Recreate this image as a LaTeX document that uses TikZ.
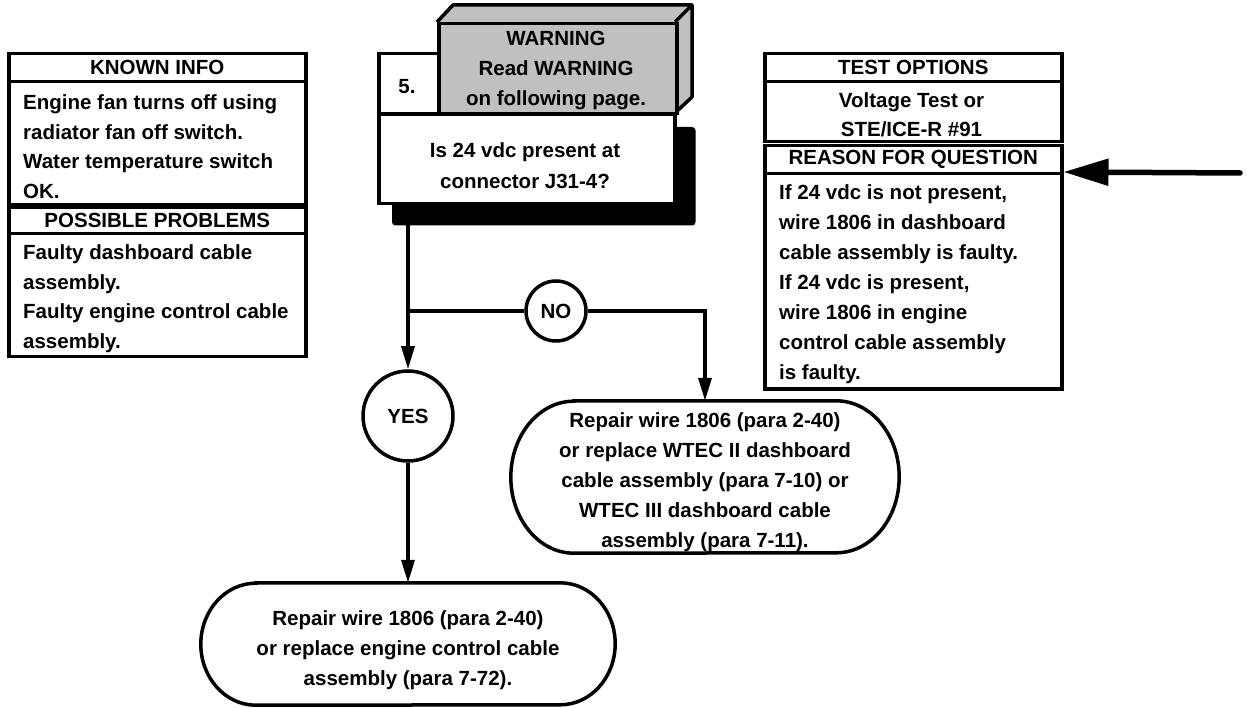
\documentclass[tikz,border=0pt]{standalone}
\usepackage{fontspec}
\setmainfont{Liberation Sans}
\usetikzlibrary{arrows.meta}
\definecolor{warngray}{RGB}{192,192,192}
\begin{document}
\begin{tikzpicture}[x=1pt,y=-1pt,
  every node/.style={font=\fontsize{20.5}{29.5}\selectfont\bfseries},
  box/.style={draw, line width=3.5pt, inner sep=0pt, anchor=north west},
  txt/.style={inner sep=0pt},
  txtw/.style={inner sep=0pt, anchor=north west, align=left},
  txtc/.style={inner sep=0pt, anchor=north, align=center},
  conn/.style={line width=3.5pt},
  arr/.style={line width=3.5pt, -{Triangle[length=23pt,width=13pt]}},
  ring/.style={circle, draw, line width=3.5pt, inner sep=0pt, fill=white},
  term/.style={inner sep=0pt},
  outline/.style={line width=3.5pt}
]
\useasboundingbox (0,0) rectangle (1247,708);

% ---------- left column ----------
\node[box, minimum width=297pt, minimum height=28pt] (kh) at (7,52) {KNOWN INFO};
\node[box, minimum width=297pt, minimum height=123pt] (kb) at (7,80) {};
\node[txtw, font=\fontsize{20.5}{29.5}\selectfont\bfseries] (kbt) at (23,94.5)
  {Engine fan turns off using\\radiator fan off switch.\\Water temperature switch\\OK.};
\node[box, minimum width=297pt, minimum height=26pt] (ph) at (7,206) {POSSIBLE PROBLEMS};
\node[box, minimum width=297pt, minimum height=123pt] (pb) at (7,232) {};
\node[txtw, font=\fontsize{20.5}{29.5}\selectfont\bfseries] (pbt) at (23,244.5)
  {Faulty dashboard cable\\assembly.\\Faulty engine control cable\\assembly.};

% ---------- right column ----------
\node[box, minimum width=297pt, minimum height=28pt] (th) at (763,52) {TEST OPTIONS};
\node[box, minimum width=297pt, minimum height=60pt] (tb) at (763,80) {};
\node[txtc, font=\fontsize{20.5}{29}\selectfont\bfseries] (tbt) at (911.5,92.5)
  {Voltage Test or\\STE/ICE-R \#91};
\node[box, minimum width=297pt, minimum height=28pt] (rh) at (763,144) {REASON FOR QUESTION};
\node[box, minimum width=297pt, minimum height=215pt] (rb) at (763,172) {};
\node[txtw, font=\fontsize{20.5}{30}\selectfont\bfseries] (rbt) at (779,184.5)
  {If 24 vdc is not present,\\wire 1806 in dashboard\\cable assembly is faulty.\\If 24 vdc is present,\\wire 1806 in engine\\control cable assembly\\is faulty.};

% ---------- question block ----------
\fill[warngray] (437,22) -- (453,5) -- (692,5) -- (692,97) -- (675,113) -- (675,22) -- cycle;
\draw[outline, line join=round] (437,22) -- (453,5) -- (692,5) -- (692,97) -- (675,113);
\draw[outline] (675,22) -- (692,5);
\node[box, fill=warngray, minimum width=238pt, minimum height=90pt] (wf) at (437,22) {};
\node[txtc, font=\fontsize{20.5}{30}\selectfont\bfseries] (wft) at (556,30.5)
  {WARNING\\Read WARNING\\on following page.};
\node[box, fill=white, minimum width=60pt, minimum height=60pt] (n5) at (377,52) {};
\node[txt] (n5t) at (407,87) {5.};
\node[box, draw=black, fill=black, rounded corners=2pt, minimum width=300pt, minimum height=95pt] (sh) at (392,127) {};
\node[box, fill=white, minimum width=296pt, minimum height=89pt] (q) at (377,113) {};
\node[txtc, font=\fontsize{20.5}{31.5}\selectfont\bfseries] (qt) at (525,142)
  {Is 24 vdc present at\\connector J31-4?};

% ---------- decisions ----------
\node[ring, minimum size=60pt] (no) at (556,311) {NO};
\node[ring, minimum size=90pt] (yes) at (408,416) {YES};

% ---------- terminals ----------
\node[term, minimum width=388pt, minimum height=152pt] (rt) at (705,477) {};
\draw[outline] ([xshift=63pt]rt.north west) -- ([xshift=-63pt]rt.north east)
  arc[start angle=90, end angle=-90, x radius=63pt, y radius=76pt]
  -- ([xshift=63pt]rt.south west)
  arc[start angle=270, end angle=90, x radius=63pt, y radius=76pt] -- cycle;
\node[txtc, font=\fontsize{20.5}{30}\selectfont\bfseries] (rtt) at (705,412.5)
  {Repair wire 1806 (para 2-40)\\or replace WTEC II dashboard\\cable assembly (para 7-10) or\\WTEC III dashboard cable\\assembly (para 7-11).};

\node[term, minimum width=414pt, minimum height=122pt] (bt) at (408,644) {};
\draw[outline] ([xshift=55pt]bt.north west) -- ([xshift=-55pt]bt.north east)
  arc[start angle=90, end angle=-90, x radius=55pt, y radius=61pt]
  -- ([xshift=55pt]bt.south west)
  arc[start angle=270, end angle=90, x radius=55pt, y radius=61pt] -- cycle;
\node[txtc, font=\fontsize{20.5}{30}\selectfont\bfseries] (btt) at (408,610.5)
  {Repair wire 1806 (para 2-40)\\or replace engine control cable\\assembly (para 7-72).};

% ---------- connectors ----------
\coordinate (qout) at (sh.south -| yes.north);
\coordinate (br) at (yes.north |- no.west);
\draw[arr] (qout) -- (yes.north);
\draw[conn] (br) -- (no.west);
\draw[arr] (no.east) -| (rt.north);
\draw[arr] (yes.south) -- (bt.north);
\coordinate (rin) at (1240,173);
\draw[line width=5.5pt, line cap=round, -{Triangle[length=45pt,width=26pt]}] (rin) -- (rb.north east);
\end{tikzpicture}
\end{document}
